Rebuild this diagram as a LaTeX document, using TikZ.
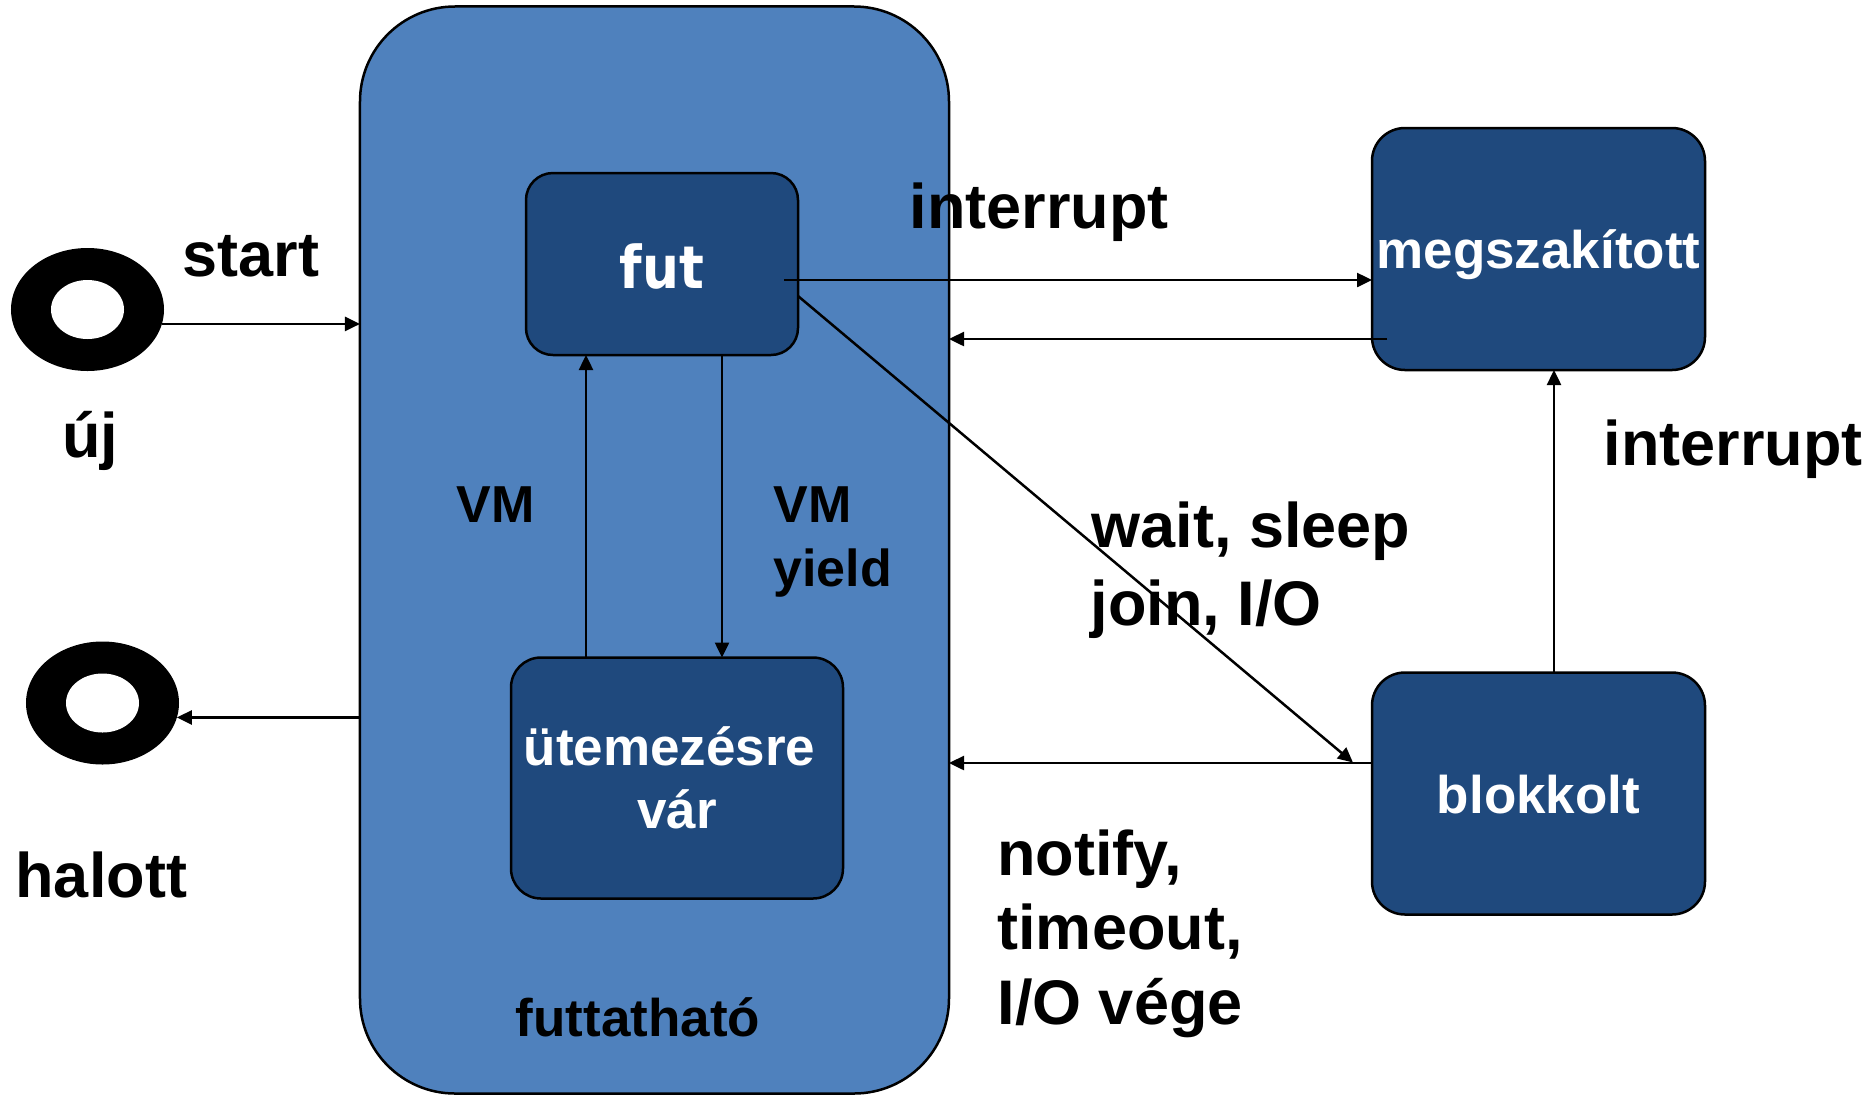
\documentclass[tikz,border=0pt]{standalone}
\usepackage{fontspec}
\usepackage{graphicx}
\setmainfont{Liberation Sans}
\newfontfamily\futfont{DejaVu Sans}
\usetikzlibrary{arrows.meta,shapes.geometric}
\definecolor{outerblue}{HTML}{4F81BD}
\definecolor{innerblue}{HTML}{1F497D}
\tikzset{
  bigbox/.style={draw=black, line width=1pt, fill=outerblue, rounded corners=38pt, inner sep=0pt, outer sep=0pt},
  statebox/.style={draw=black, line width=1pt, fill=innerblue, text=white, inner sep=0pt, outer sep=0pt,
    font=\fontsize{21.2pt}{25.2pt}\selectfont\bfseries},
  ring/.style={ellipse, fill=black, inner sep=0pt, outer sep=0pt, minimum width=61.2pt, minimum height=49.2pt},
  arr/.style={draw=black, line width=1pt, -{Triangle[length=6pt, width=5.6pt]}},
  biglabel/.style={inner sep=0pt, font=\fontsize{25.2pt}{30pt}\selectfont\bfseries},
  vmlabel/.style={inner sep=0pt, font=\fontsize{20.8pt}{25pt}\selectfont\bfseries},
}
\begin{document}
\begin{tikzpicture}[x=0.4pt, y=-0.4pt]
\useasboundingbox (0,0) rectangle (1876,1095);

% containers and states
\node[bigbox, minimum width=235.6pt, minimum height=434.8pt] (big) at (654.5,550) {};
\node[statebox, rounded corners=10.8pt, minimum width=108.8pt, minimum height=72.8pt,
      text height=19.2pt, text depth=0pt] (fut) at (662,264)
      {\futfont\fontsize{23.6pt}{28pt}\selectfont\bfseries\scalebox{0.88}[1]{fut}};
\node[statebox, rounded corners=12pt, minimum width=132.8pt, minimum height=96.4pt, align=center] (utem) at (677,778)
      {ütemezésre\kern5.9pt\\vár};
\node[statebox, rounded corners=13.2pt, minimum width=133.2pt, minimum height=96.8pt,
      text height=15.6pt, text depth=0pt] (megsz) at (1538.5,249) {megszakított};
\node[statebox, rounded corners=13.2pt, minimum width=133.2pt, minimum height=96.8pt,
      text height=15.6pt, text depth=0pt] (blokk) at (1538.5,793.5) {blokkolt};

% start / end rings
\node[ring] (uj) at (87.5,309.5) {};
\fill[white] (uj.center) ellipse [x radius=14.6pt, y radius=11.8pt];
\node[ring] (halott) at (102.5,703) {};
\fill[white] (halott.center) ellipse [x radius=14.6pt, y radius=11.8pt];

% labels
\node[biglabel, anchor=base] (lstart) at (251,276) {start};
\node[biglabel, anchor=base] (luj) at (90,457) {új};
\node[biglabel, anchor=base west] (lhalott) at (15,897) {halott};
\node[biglabel, anchor=base west] (lint1) at (909,228) {interrupt};
\node[biglabel, anchor=base west] (lint2) at (1603,465) {interrupt};
\node[biglabel, anchor=base west] (lwait) at (1091,547) {wait, sleep};
\node[biglabel, anchor=base west] (ljoin) at (1090,625) {join, I/O};
\node[biglabel, anchor=base west] (lnot1) at (997,875) {notify,};
\node[biglabel, anchor=base west] (lnot2) at (997,949) {timeout,};
\node[biglabel, anchor=base west] (lnot3) at (997,1024) {I/O vége};
\node[vmlabel, anchor=base west] (lvm1) at (456,522) {VM};
\node[vmlabel, anchor=base west] (lvm2) at (773,522) {VM};
\node[vmlabel, anchor=base west] (lyield) at (773,586) {yield};
\node[inner sep=0pt, font=\fontsize{21.2pt}{25pt}\selectfont\bfseries, anchor=base] (lfutt) at (638,1036) {futtatható};

% connector end points
\coordinate (futout) at ([shift={(-14,16)}]fut.east);
\coordinate (megszout) at ([shift={(15,90)}]megsz.west);
\coordinate (blokkout) at ([shift={(0,-30.5)}]blokk.west);
\coordinate (blokkin) at ([shift={(-19,-31)}]blokk.west);
\coordinate (futdiag) at ([shift={(0,32)}]fut.east);
\coordinate (blokktop) at ([shift={(15.5,0)}]blokk.north);
\coordinate (futdown) at ([shift={(60,0)}]fut.south);
\coordinate (futup) at ([shift={(-76,0)}]fut.south);

% connectors
\draw[arr] (uj.-11.8) -- (uj.-11.8 -| big.west);
\draw[arr] (big.west |- halott.-11.5) -- (halott.-11.5);
\draw[arr] (futout) -- (futout -| megsz.west);
\draw[arr] (megszout) -- (megszout -| big.east);
\draw[arr] (futdiag) -- (blokkin);
\draw[arr] (blokkout) -- (blokkout -| big.east);
\draw[arr] (blokktop) -- (blokktop |- megsz.south);
\draw[arr] (futdown) -- (futdown |- utem.north);
\draw[arr] (futup |- utem.north) -- (futup);
\end{tikzpicture}
\end{document}
